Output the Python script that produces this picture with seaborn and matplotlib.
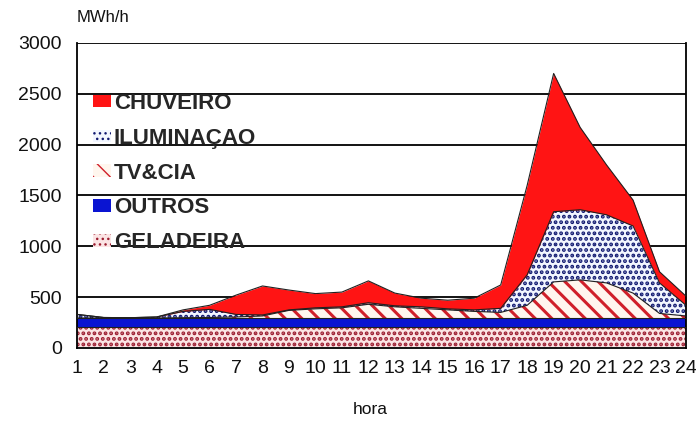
import matplotlib
matplotlib.use("Agg")
import matplotlib.pyplot as plt
from matplotlib.patches import Patch
import seaborn as sns
import numpy as np
import pandas as pd

# hourly load curve by end use (MWh/h)
horas = list(range(1, 25))
geladeira = [205] * 24
outros = [90] * 24
tv_cia = [0, 0, 0, 0, 3, 5, 10, 20, 75, 90, 100, 135, 110, 95, 80, 65, 55, 125, 355, 375, 345, 245, 45, 20]
iluminacao = [35, 5, 3, 10, 62, 80, 25, 10, 5, 10, 10, 15, 10, 15, 10, 15, 40, 300, 690, 690, 670, 660, 300, 105]
chuveiro = [0, 0, 0, 0, 15, 40, 190, 285, 195, 140, 145, 215, 125, 85, 85, 115, 230, 880, 1360, 810, 490, 255, 110, 90]

nomes = ["GELADEIRA", "OUTROS", "TV&CIA", "ILUMINAÇAO", "CHUVEIRO"]
df = pd.DataFrame({"hora": horas, "GELADEIRA": geladeira, "OUTROS": outros,
                   "TV&CIA": tv_cia, "ILUMINAÇAO": iluminacao, "CHUVEIRO": chuveiro})

# look of each layer: facecolor, hatch colour, hatch, hatch width
estilos = {
    "GELADEIRA": ("#fbe4e4", "#9c1c30", "...", 1.9),
    "OUTROS": ("#0a14d2", "#0a14d2", None, 1.0),
    "TV&CIA": ("#fff6ee", "#d0202a", "\\\\", 2.2),
    "ILUMINAÇAO": ("#f2f6ff", "#101870", "...", 1.9),
    "CHUVEIRO": ("#ff1414", "#ff1414", None, 1.0),
}

sns.set_theme(style="white")
plt.rcParams["font.family"] = ["Liberation Sans", "DejaVu Sans"]

fig, ax = plt.subplots(figsize=(6.96, 4.21), dpi=100)
fig.subplots_adjust(left=0.111, right=0.9856, bottom=0.1734, top=0.898)

base = np.zeros(len(horas))
handles = []
for nome in nomes:
    fc, hc, hatch, hlw = estilos[nome]
    topo = base + df[nome].to_numpy()
    with plt.rc_context({"hatch.linewidth": hlw}):
        ax.fill_between(df["hora"], base, topo, facecolor=fc, edgecolor=hc,
                        hatch=hatch, linewidth=0, zorder=2)
        handles.append(Patch(facecolor=fc, edgecolor=hc, hatch=hatch, linewidth=0))
    sns.lineplot(x=df["hora"], y=topo, color="#202020", lw=0.8, ax=ax, zorder=3)
    base = topo

ax.set_xlim(1, 24)
ax.set_ylim(0, 3000)
ax.set_xticks(horas)
ax.set_yticks(range(0, 3001, 500))
ax.tick_params(axis="both", length=0, labelsize=14, colors="#111111")
ax.tick_params(axis="y", pad=11)
ax.tick_params(axis="x", pad=9)
ax.set_xlabel("")
ax.set_ylabel("")

ax.set_axisbelow(True)
ax.yaxis.grid(True, color="black", lw=1.3)
for s in ["left", "right", "bottom"]:
    ax.spines[s].set_color("black")
    ax.spines[s].set_linewidth(1.3)
ax.spines["top"].set_visible(False)

leg = ax.legend(handles[::-1], nomes[::-1], loc="upper left",
                bbox_to_anchor=(0.012, 0.865), frameon=False,
                prop={"size": 16, "weight": "bold"},
                handlelength=0.8, handleheight=0.5, handletextpad=0.12,
                labelspacing=0.62, borderaxespad=0)

fig.text(77 / 696, 1 - 18 / 421, "MWh/h", fontsize=12, ha="left", va="center", color="#111111")
fig.text(370 / 696, 1 - 410 / 421, "hora", fontsize=12.5, ha="center", va="center", color="#111111")

fig.savefig("out.png", dpi=100)
